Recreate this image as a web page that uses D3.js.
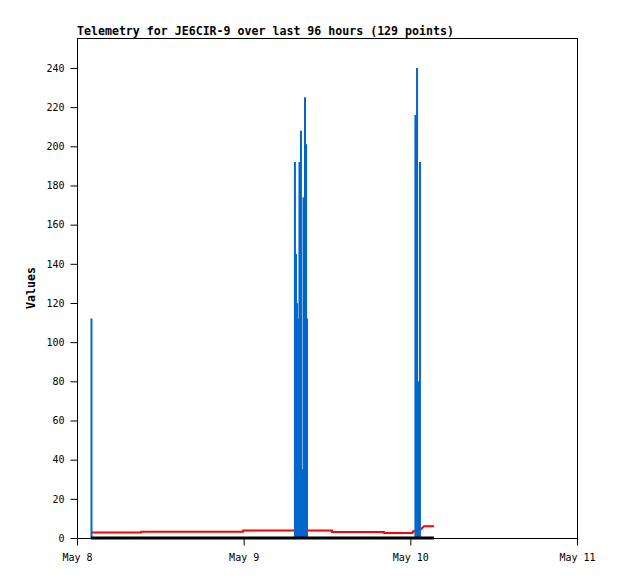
<!DOCTYPE html>
<html>
<head>
<meta charset="utf-8">
<script src="https://cdn.jsdelivr.net/npm/d3@7"></script>
<style>
  html, body { margin: 0; padding: 0; background: #fff; }
  svg { display: block; }
  text { font-family: "DejaVu Sans Mono", "Liberation Mono", monospace; fill: #000; }
</style>
</head>
<body>
<svg id="chart" width="618" height="579"></svg>
<script>
// ---- data ----
const titleText = "Telemetry for JE6CIR-9 over last 96 hours (129 points)";
const yLabelText = "Values";

const xDomain = ["2024-05-08T00:00", "2024-05-11T00:00"];
const xTickDates = ["2024-05-08T00:00", "2024-05-09T00:00", "2024-05-10T00:00", "2024-05-11T00:00"];
const xTickLabels = ["May 8", "May 9", "May 10", "May 11"];
const yTicks = [0, 20, 40, 60, 80, 100, 120, 140, 160, 180, 200, 220, 240];
const yMax = 255.3;

// blue channel (spikes)
const blueTimes = [
  "2024-05-08T02:05",
  "2024-05-09T07:23", "2024-05-09T07:32", "2024-05-09T07:41", "2024-05-09T07:49",
  "2024-05-09T08:02", "2024-05-09T08:15", "2024-05-09T08:28", "2024-05-09T08:37",
  "2024-05-09T08:50", "2024-05-09T08:59", "2024-05-09T09:07",
  "2024-05-10T00:44", "2024-05-10T00:58", "2024-05-10T01:11", "2024-05-10T01:23"
];
const blueValues = [
  112,
  192, 145, 120, 112,
  192, 208, 35, 174,
  225, 201, 112,
  216, 240, 80, 192
];

// red channel (slowly varying)
const redTimes = [
  "2024-05-08T02:01", "2024-05-08T09:13", "2024-05-08T09:14", "2024-05-08T23:54", "2024-05-08T23:55",
  "2024-05-09T12:43", "2024-05-09T12:44", "2024-05-09T20:12", "2024-05-09T20:13",
  "2024-05-10T00:20", "2024-05-10T00:23", "2024-05-10T01:06", "2024-05-10T01:32",
  "2024-05-10T01:58", "2024-05-10T03:24"
];
const redValues = [
  2.8, 2.8, 3.2, 3.2, 3.8,
  3.8, 3.1, 3.1, 2.5,
  2.5, 3.5, 3.5, 4.5,
  6.0, 6.0
];

// black channel (zero)
const blackTimes = ["2024-05-08T02:01", "2024-05-10T03:24"];
const blackValues = [0, 0];

// ---- drawing ----
const parse = d3.utcParse("%Y-%m-%dT%H:%M");
const svg = d3.select("#chart");
const L = 77, R = 577, T = 38, B = 538;

const x = d3.scaleUtc().domain(xDomain.map(parse)).range([L, R]);
const y = d3.scaleLinear().domain([0, yMax]).range([B, T]);

const zip = (ts, vs) => ts.map((t, i) => ({ t: parse(t), v: vs[i] }));

const line = d3.line().x(d => x(d.t)).y(d => y(d.v));

// red
svg.append("path")
  .datum(zip(redTimes, redValues))
  .attr("d", line)
  .attr("fill", "none")
  .attr("stroke", "#ff0000")
  .attr("stroke-width", 2);

// blue impulses
svg.append("g").selectAll("line")
  .data(zip(blueTimes, blueValues))
  .join("line")
  .attr("x1", d => x(d.t)).attr("x2", d => x(d.t))
  .attr("y1", y(0)).attr("y2", d => y(d.v))
  .attr("stroke", "#0066cc")
  .attr("stroke-width", 2);

// black
svg.append("path")
  .datum(zip(blackTimes, blackValues))
  .attr("d", line)
  .attr("fill", "none")
  .attr("stroke", "#000")
  .attr("stroke-width", 3);

// axes
const yAxis = d3.axisLeft(y).tickValues(yTicks).tickSize(7).tickPadding(6);
const gy = svg.append("g").attr("transform", `translate(${L + 0.5},0)`).call(yAxis);
gy.select(".domain").remove();
gy.selectAll("text").style("font-size", "10px").attr("fill", "#000");
gy.selectAll("line").attr("stroke", "#000");

const xAxis = d3.axisBottom(x).tickValues(xTickDates.map(parse))
  .tickFormat((d, i) => xTickLabels[i]).tickSize(7).tickPadding(8);
const gx = svg.append("g").attr("transform", `translate(0,${B + 0.5})`).call(xAxis);
gx.select(".domain").remove();
gx.selectAll("text").style("font-size", "10px").attr("fill", "#000");
gx.selectAll("line").attr("stroke", "#000");

// frame
svg.append("rect")
  .attr("x", L + 0.5).attr("y", T + 0.5)
  .attr("width", R - L).attr("height", B - T)
  .attr("fill", "none").attr("stroke", "#000").attr("stroke-width", 1);

// title
svg.append("text")
  .attr("x", L).attr("y", 35)
  .style("font-size", "11.6px").style("font-weight", "bold")
  .text(titleText);

// y label
svg.append("text")
  .attr("transform", `translate(35,${(T + B) / 2}) rotate(-90)`)
  .attr("text-anchor", "middle")
  .style("font-size", "11.6px").style("font-weight", "bold")
  .text(yLabelText);
</script>
</body>
</html>
